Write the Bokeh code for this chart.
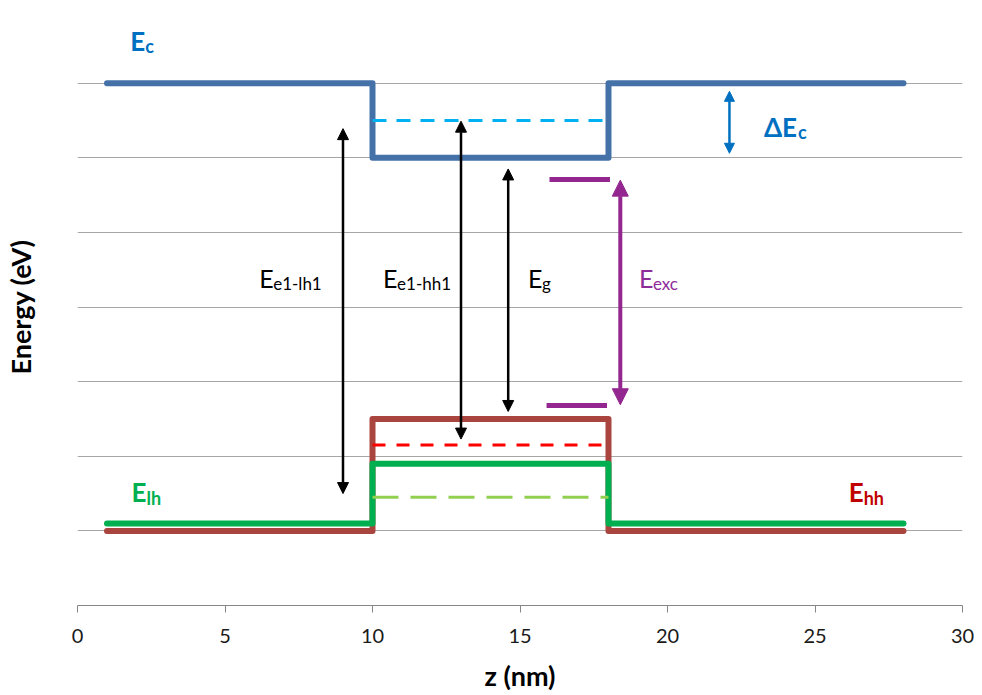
from bokeh.plotting import figure
from bokeh.models import Arrow, NormalHead, FixedTicker, Range1d
from bokeh.core.properties import value
from bokeh.embed import file_html
from bokeh.resources import INLINE

# ---- data ----
z_band = [1, 10, 10, 18, 18, 28]
ec = [7, 7, 6, 6, 7, 7]
ehh = [1, 1, 2.5, 2.5, 1, 1]
elh = [1.1, 1.1, 1.9, 1.9, 1.1, 1.1]

z_well = [10, 18]
e1_level = [6.5, 6.5]
hh1_level = [2.15, 2.15]
lh1_level = [1.45, 1.45]

exc_top_z = [16.0, 18.05]
exc_top_e = [5.71, 5.71]
exc_bot_z = [15.9, 17.95]
exc_bot_e = [2.68, 2.68]

# transition arrows: x, lower tip, upper tip
arrow_names = ["e1-lh1", "e1-hh1", "g"]
arrow_z = [9.0, 13.0, 14.6]
arrow_lo = [1.50, 2.23, 2.60]
arrow_hi = [6.39, 6.49, 5.85]

exc_arrow_z = 18.4
exc_arrow_lo = 2.69
exc_arrow_hi = 5.70

dec_arrow_z = 22.1
dec_arrow_lo = 6.06
dec_arrow_hi = 6.89

x_ticks = [0, 5, 10, 15, 20, 25, 30]
grid_levels = [0, 1, 2, 3, 4, 5, 6, 7, 8]

FONT = "Lato"

p = figure(width=974, height=694, output_backend="svg", toolbar_location=None,
           x_range=Range1d(0, 30), y_range=Range1d(0, 8),
           min_border_left=76, min_border_right=12, min_border_top=8,
           min_border_bottom=10)
p.outline_line_color = None
p.background_fill_color = "white"
p.border_fill_color = "white"

# grid
p.xgrid.visible = False
p.ygrid.ticker = FixedTicker(ticks=grid_levels)
p.ygrid.grid_line_color = "#A6A6A6"
p.ygrid.grid_line_width = 1

# x axis
p.xaxis.ticker = FixedTicker(ticks=x_ticks)
p.xaxis.axis_line_color = "#868686"
p.xaxis.major_tick_line_color = "#868686"
p.xaxis.major_tick_out = 7
p.xaxis.major_tick_in = 0
p.xaxis.minor_tick_line_color = None
p.xaxis.major_label_text_font = FONT
p.xaxis.major_label_text_font_size = "20px"
p.xaxis.major_label_text_color = "#1a1a1a"
p.xaxis.major_label_standoff = 16
p.xaxis.axis_label = "z (nm)"
p.xaxis.axis_label_text_font = FONT
p.xaxis.axis_label_text_font_style = "bold"
p.xaxis.axis_label_text_font_size = "27px"
p.xaxis.axis_label_text_color = "black"
p.xaxis.axis_label_standoff = 13

# y axis
p.yaxis.ticker = FixedTicker(ticks=[])
p.yaxis.axis_line_color = None
p.yaxis.major_tick_line_color = None
p.yaxis.minor_tick_line_color = None
p.yaxis.major_label_text_font_size = "0px"
p.yaxis.axis_label = "Energy (eV)"
p.yaxis.axis_label_text_font = FONT
p.yaxis.axis_label_text_font_style = "bold"
p.yaxis.axis_label_text_font_size = "27px"
p.yaxis.axis_label_text_color = "black"
p.yaxis.axis_label_standoff = 41

# bands
p.line(z_band, ec, line_color="#4472A8", line_width=6, line_join="round", line_cap="round")
p.line(z_well, e1_level, line_color="#00B0F0", line_width=3, line_dash="14 10")
p.line(z_band, ehh, line_color="#A9443F", line_width=6, line_join="round", line_cap="round")
p.line(z_well, hh1_level, line_color="#FF0000", line_width=3, line_dash="13 11")
p.line(z_band, elh, line_color="#00B050", line_width=6, line_join="round", line_cap="round")
p.line(z_well, lh1_level, line_color="#92D050", line_width=3, line_dash="26 12")

# exciton levels
p.line(exc_top_z, exc_top_e, line_color="#93278F", line_width=5)
p.line(exc_bot_z, exc_bot_e, line_color="#93278F", line_width=5)

# arrows
for xz, lo, hi in zip(arrow_z, arrow_lo, arrow_hi):
    p.add_layout(Arrow(x_start=xz, y_start=lo, x_end=xz, y_end=hi, line_width=2.5, line_color="black",
                       start=NormalHead(size=11, fill_color="black", line_color="black"),
                       end=NormalHead(size=11, fill_color="black", line_color="black")))
p.add_layout(Arrow(x_start=exc_arrow_z, y_start=exc_arrow_lo, x_end=exc_arrow_z, y_end=exc_arrow_hi,
                   line_width=4, line_color="#93278F",
                   start=NormalHead(size=16, fill_color="#93278F", line_color="#93278F"),
                   end=NormalHead(size=16, fill_color="#93278F", line_color="#93278F")))
p.add_layout(Arrow(x_start=dec_arrow_z, y_start=dec_arrow_lo, x_end=dec_arrow_z, y_end=dec_arrow_hi,
                   line_width=2.5, line_color="#0070C0",
                   start=NormalHead(size=10, fill_color="#0070C0", line_color="#0070C0"),
                   end=NormalHead(size=10, fill_color="#0070C0", line_color="#0070C0")))

LIFT = -11  # screen-pixel correction of the text baseline


def label(x, y, main, sub, color, bold, main_size, sub_size, sub_dx, sub_dy=5):
    style = "bold" if bold else "normal"
    p.text(x=[x], y=[y], text=[main], text_font=value(FONT), text_font_style=style,
           text_font_size=main_size, text_color=color, text_align="left",
           text_baseline="alphabetic", y_offset=LIFT)
    p.text(x=[x], y=[y], text=[sub], text_font=value(FONT), text_font_style=style,
           text_font_size=sub_size, text_color=color, text_align="left",
           text_baseline="alphabetic", x_offset=sub_dx, y_offset=LIFT + sub_dy)


label(1.79, 7.42, "E", "c", "#0070C0", True, "26px", "18px", 15)
label(1.83, 1.38, "E", "lh", "#00B050", True, "26px", "18px", 15, 6)
label(26.14, 1.38, "E", "hh", "#C00000", True, "26px", "18px", 15, 6)
label(23.27, 6.26, "\u0394E", "c", "#0070C0", True, "26px", "18px", 34, 5)
label(6.16, 4.24, "E", "e1-lh1", "black", False, "25px", "17px", 14, 5)
label(10.36, 4.24, "E", "e1-hh1", "black", False, "25px", "17px", 14, 5)
label(15.27, 4.24, "E", "g", "black", False, "25px", "17px", 14, 5)
label(19.03, 4.24, "E", "exc", "#8E2C9A", False, "25px", "17px", 14, 5)

open("out.html", "w").write(file_html(p, INLINE))
